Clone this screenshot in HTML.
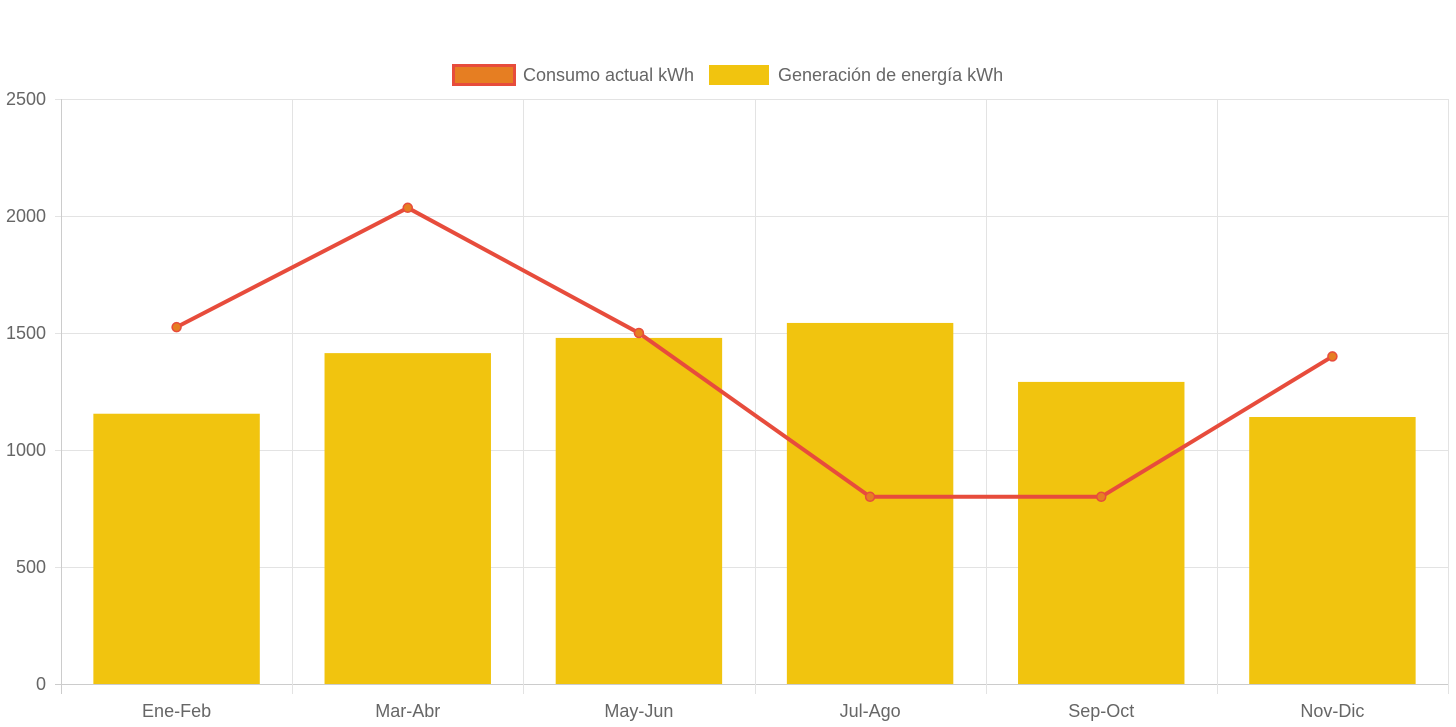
<!DOCTYPE html>
<html><head><meta charset="utf-8"><style>
html,body{margin:0;padding:0;background:#fff;}
svg{display:block;font-family:"Liberation Sans",Arial,sans-serif;}
</style></head><body>
<svg id="chart" width="1456" height="727">
<g id="grid"></g>
<g id="bars"></g>
<g id="line"></g>
<g id="axes"></g>
<g id="legend">
  <g>
    <rect x="453.5" y="65.5" width="61" height="19" fill="#e67e22" stroke="#e74c3c" stroke-width="3"/>
    <text x="523" y="81" font-size="18" fill="#666">Consumo actual kWh</text>
  </g>
  <g>
    <rect x="709" y="65" width="60" height="20" fill="#f1c40f"/>
    <text x="778" y="81" font-size="18" fill="#666">Generación de energía kWh</text>
  </g>
</g>
</svg>
<script>
const categories=["Ene-Feb","Mar-Abr","May-Jun","Jul-Ago","Sep-Oct","Nov-Dic"];
const generation=[1155,1414,1479,1543,1291,1141];
const consumption=[1525,2035,1500,800,800,1400];
const yTicks=[0,500,1000,1500,2000,2500];
const NS="http://www.w3.org/2000/svg";
const L=61,R=1448,T=99,B=684,yMax=2500;
const bw=(R-L)/categories.length;
function x(i){return L+bw*(i+0.5);}
function y(v){return B-(v/yMax)*(B-T);}
function mk(tag,attrs,parent){const e=document.createElementNS(NS,tag);for(const k in attrs)e.setAttribute(k,attrs[k]);parent.appendChild(e);return e;}
const grid=document.getElementById('grid'),bars=document.getElementById('bars'),line=document.getElementById('line'),axes=document.getElementById('axes');
yTicks.forEach(t=>{
  const g=mk('line',{x1:L-6,x2:R,y1:y(t)+0.5,y2:y(t)+0.5,stroke:t===0?'#ccc':'#e3e3e3','stroke-width':1},grid);
  
  
  const tx=mk('text',{x:L-15,y:y(t)+6,'text-anchor':'end','font-size':18,fill:'#666'},axes);
  tx.textContent=t;
  
  
});
for(let i=0;i<=categories.length;i++){
  const xx=Math.round(L+bw*i)+0.5;
  const g=mk('line',{x1:xx,x2:xx,y1:T,y2:B+10,stroke:i===0?'#ccc':'#e3e3e3','stroke-width':1},grid);
  
  
}
categories.forEach((c,i)=>{
  const w=bw*0.72;
  const r=mk('rect',{x:x(i)-w/2,y:y(generation[i]),width:w,height:B-y(generation[i]),fill:'#f1c40f'},bars);
  
  
  const tx=mk('text',{x:x(i),y:717,'text-anchor':'middle','font-size':18,fill:'#666'},axes);
  tx.textContent=c;
  
  
});
const pts=consumption.map((v,i)=>x(i)+','+y(v)).join(' ');
const pl=mk('polyline',{points:pts,fill:'none',stroke:'#e74c3c','stroke-width':4,'stroke-linejoin':'round'},line);


consumption.forEach((v,i)=>{
  const c=mk('circle',{cx:x(i),cy:y(v),r:4.5,fill:'#e67e22',stroke:'#e74c3c','stroke-width':1.5},line);
  
  
});
</script>
</body></html>
